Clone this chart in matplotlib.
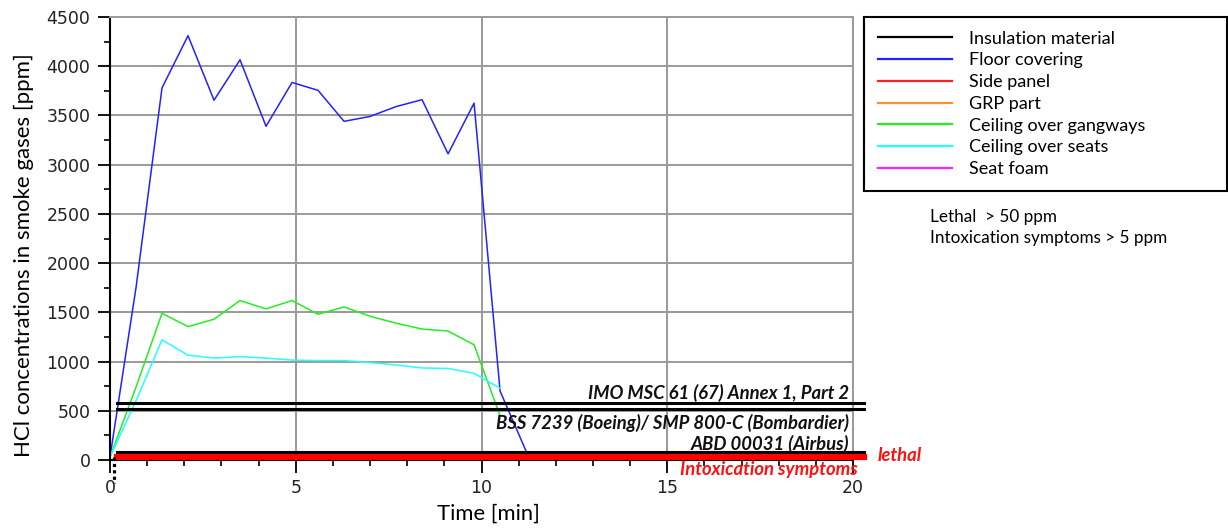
import matplotlib
matplotlib.use("Agg")
import matplotlib.pyplot as plt
from matplotlib.lines import Line2D

# time axis [min], samples every 0.7 min
floor_t = [0.0, 0.7, 1.4, 2.1, 2.8, 3.5, 4.2, 4.9, 5.6, 6.3, 7.0, 7.7, 8.4, 9.1, 9.8, 10.5, 11.2]
floor = [30, 1750, 3780, 4310, 3655, 4065, 3390, 3835, 3755, 3440, 3490, 3590, 3660, 3110, 3625, 700, 90]

ceil_t = [0.0, 0.7, 1.4, 2.1, 2.8, 3.5, 4.2, 4.9, 5.6, 6.3, 7.0, 7.7, 8.4, 9.1, 9.8, 10.5]
gangways = [30, 740, 1490, 1355, 1430, 1620, 1535, 1620, 1480, 1555, 1460, 1390, 1330, 1310, 1170, 450]
seats = [30, 600, 1220, 1065, 1035, 1050, 1035, 1015, 1010, 1010, 990, 965, 935, 930, 880, 730]

# insulation material only shows as a short dotted stub at t=0
insul_t = [0.1, 0.1]
insul = [30, -230]

labels = ["Insulation material", "Floor covering", "Side panel", "GRP part",
          "Ceiling over gangways", "Ceiling over seats", "Seat foam"]
colors = ["#000000", "#2222ff", "#ff2020", "#ff9030", "#22ee22", "#22ffff", "#ff22ff"]

# limit values (ppm)
limit_names = ["IMO MSC 61 (67) Annex 1, Part 2", "BSS 7239 (Boeing)/ SMP 800-C (Bombardier)",
               "ABD 00031 (Airbus)"]
limit_vals = [575, 515, 80]
limit_text_y = [677, 372, 162]
lethal_val = 30
limit_span = [0.18, 20.3]

W, H = 1228, 532
fig = plt.figure(figsize=(W / 100, H / 100), dpi=100)
ax = fig.add_axes([110 / W, 1 - 460 / H, (853 - 110) / W, (460 - 17) / H])

ax.set_xlim(0, 20)
ax.set_ylim(0, 4500)
ax.set_xticks([0, 5, 10, 15, 20])
ax.set_xticks(range(0, 21), minor=True)
ax.set_yticks(range(0, 4501, 500))
ax.set_yticks(range(0, 4501, 250), minor=True)
ax.grid(True, which="major", color="#9a9a9a", lw=1.4)
ax.set_axisbelow(True)
for s in ["top", "right"]:
    ax.spines[s].set_color("#9a9a9a")
    ax.spines[s].set_linewidth(1.4)
for s in ["left", "bottom"]:
    ax.spines[s].set_linewidth(1.5)
ax.tick_params(which="major", length=9, width=1.3, pad=5, labelsize=12.5, labelcolor="#222222")
ax.tick_params(which="minor", length=4, width=1.2)

# threshold lines
for v in limit_vals:
    ax.plot(limit_span, [v, v], color="black", lw=2.2, clip_on=False, zorder=3)
ax.plot(limit_span, [lethal_val, lethal_val], color="#ff0000", lw=4.5, clip_on=False, zorder=3)
ax.plot(insul_t, insul, color="black", lw=2.3, ls=(0, (1, 1)), clip_on=False, zorder=4)

ax.plot(floor_t, floor, color=colors[1], lw=1.1, zorder=2)
ax.plot(ceil_t, gangways, color=colors[4], lw=1.1, zorder=2)
ax.plot(ceil_t, seats, color=colors[5], lw=1.1, zorder=2)

tfont = dict(family="Lato", style="italic", weight="bold", fontsize=13.3)
for name, ty in zip(limit_names, limit_text_y):
    ax.text(19.9, ty, name, ha="right", va="center", color="#111111", **tfont)
ax.text(20.67, 50, "lethal", ha="left", va="center", color="#ff1010", clip_on=False, **tfont)
ax.text(20.13, -95, "Intoxication symptoms", ha="right", va="center", color="#ff1010",
        clip_on=False, **tfont)

ax.set_xlabel("Time [min]", family="Lato", fontsize=15.8)
ax.set_ylabel("HCl concentrations in smoke gases [ppm]", family="Lato", fontsize=16)
ax.xaxis.set_label_coords(0.51, -0.098)
ax.yaxis.set_label_coords(-0.102, 0.462)

handles = [Line2D([], [], color=c, lw=1.6) for c in colors]
leg = fig.legend(handles, labels, loc="upper left",
                 bbox_to_anchor=(864 / W, 1 - 17 / H, (1227 - 864) / W, 0.0), mode="expand",
                 prop=dict(family="Lato", size=13), handlelength=4.1, handletextpad=0.95,
                 labelspacing=0.32, borderpad=0.75, borderaxespad=0, fancybox=False,
                 framealpha=1, edgecolor="black")
leg.get_frame().set_linewidth(1.5)

fig.text(930 / W, 1 - 217 / H, "Lethal  > 50 ppm", family="Lato", fontsize=12.3, va="center")
fig.text(930 / W, 1 - 238 / H, "Intoxication symptoms > 5 ppm", family="Lato", fontsize=12.3,
         va="center")

fig.savefig("out.png", dpi=100)
